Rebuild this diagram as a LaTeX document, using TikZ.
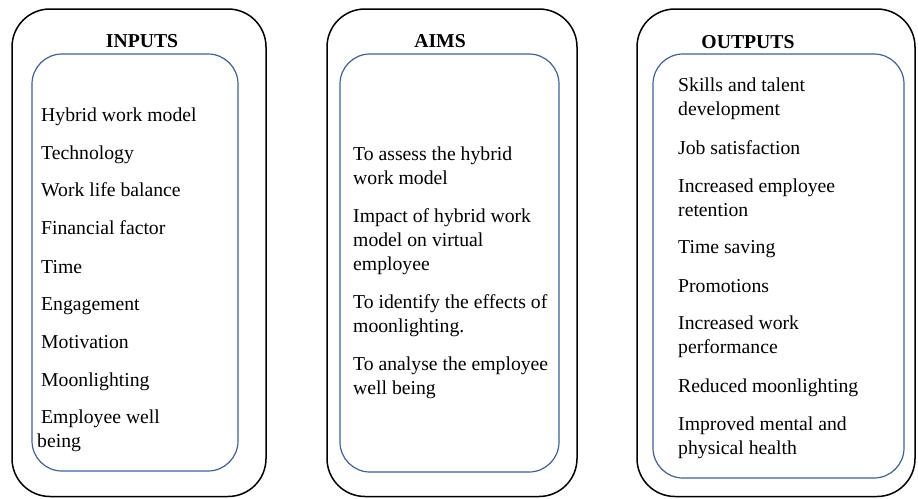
\documentclass[tikz,border=0pt]{standalone}
\usepackage{fontspec}
\setmainfont{Liberation Serif}
\definecolor{innerblue}{RGB}{58,96,166}
% list entry set as a top-aligned block, so its base is the first line
\newcommand\listentry[1]{\begin{tabular}[t]{@{}l@{}}#1\end{tabular}}
\begin{document}
\begin{tikzpicture}[x=1pt,y=-1pt,
  outerbox/.style={draw=black, line width=1.5pt, rounded corners=38pt},
  innerbox/.style={draw=innerblue, line width=1.2pt, rounded corners=30pt},
  heading/.style={font=\fontsize{19.7}{24}\selectfont\bfseries, anchor=base, inner sep=0pt},
  item/.style={font=\fontsize{19.7}{24}\selectfont, anchor=base west, inner sep=0pt}]
\useasboundingbox (0,0) rectangle (918,498);

% three columns: outer frame and inner list frame
\draw[outerbox] (12,9) rectangle (266,496.5);
\draw[innerbox] (32,54) rectangle (238,471);
\draw[outerbox] (327,9) rectangle (577,496.5);
\draw[innerbox] (340,54) rectangle (559,472);
\draw[outerbox] (637,9) rectangle (915,496.5);
\draw[innerbox] (653,54) rectangle (904,478);

% headings
\node[heading] (hin)  at (142,47) {INPUTS};
\node[heading] (haim) at (440,47) {AIMS};
\node[heading] (hout) at (748,48) {OUTPUTS};

% inputs
\node[item] (i1) at (41,121) {Hybrid work model};
\node[item] (i2) at (41,159) {Technology};
\node[item] (i3) at (41,196) {Work life balance};
\node[item] (i4) at (41,234) {Financial factor};
\node[item] (i5) at (41,273) {Time};
\node[item] (i6) at (41,310) {Engagement};
\node[item] (i7) at (41,348) {Motivation};
\node[item] (i8) at (41,386) {Moonlighting};
\node[item] (i9) at (37,423) {\listentry{\hspace*{4pt}Employee well\\being}};

% aims
\node[item] (a1) at (353,160) {\listentry{To assess the hybrid\\work model}};
\node[item] (a2) at (353,222) {\listentry{Impact of hybrid work\\model on virtual\\employee}};
\node[item] (a3) at (353,308) {\listentry{To identify the effects of\\moonlighting.}};
\node[item] (a4) at (353,370) {\listentry{To analyse the employee\\well being}};

% outputs
\node[item] (o1) at (678,91)  {\listentry{Skills and talent\\development}};
\node[item] (o2) at (678,154) {Job satisfaction};
\node[item] (o3) at (678,192) {\listentry{Increased employee\\retention}};
\node[item] (o4) at (678,253) {Time saving};
\node[item] (o5) at (678,292) {Promotions};
\node[item] (o6) at (678,329) {\listentry{Increased work\\performance}};
\node[item] (o7) at (678,392) {Reduced moonlighting};
\node[item] (o8) at (678,430) {\listentry{Improved mental and\\physical health}};
\end{tikzpicture}
\end{document}
